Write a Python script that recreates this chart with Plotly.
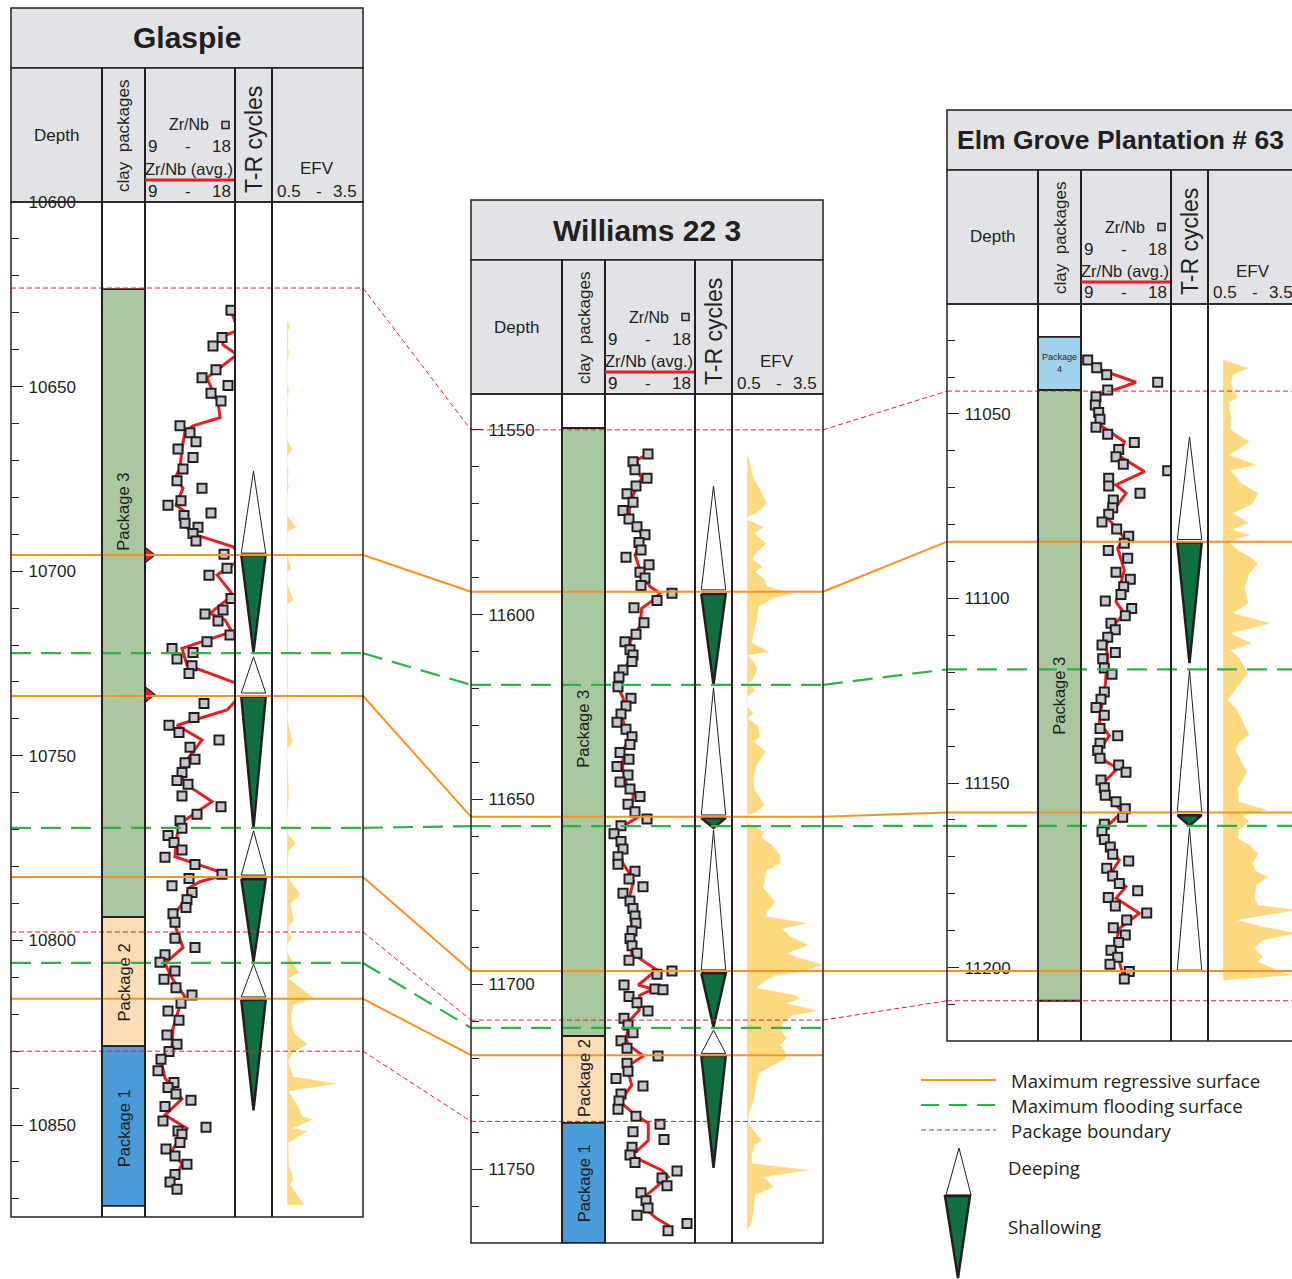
import plotly.graph_objects as go

W, H = 1292, 1279

# ====================== DATA ======================
# Zr/Nb samples (depth ft, ratio)
gl_zr = [(10629.3,17.6),(10636.7,16.7),(10639.0,15.8),(10645.4,16.1),(10647.6,14.7),(10649.7,17.3),(10651.8,15.6),
         (10653.9,16.6),(10660.6,12.5),(10662.5,13.5),(10664.9,14.1),(10666.9,12.3),(10669.2,13.8),(10672.3,12.8),
         (10675.5,12.2),(10677.5,14.7),(10680.9,12.6),(10682.1,11.3),(10684.2,15.6),(10684.9,12.9),(10687.0,13.0),
         (10688.1,14.3),(10689.8,13.8),(10691.8,14.1),(10695.4,16.9),(10699.2,17.2),(10701.1,15.4),(10707.4,17.6),
         (10710.5,16.8),(10711.6,15.0),(10713.5,16.3),(10717.3,17.5),(10719.1,15.2),(10720.9,11.7),(10722.0,13.8),
         (10723.8,12.2),(10725.6,13.7),(10727.7,13.4),(10735.8,14.9),(10739.6,13.9),(10741.7,11.4),(10743.7,12.4),
         (10745.7,16.4),(10747.7,13.5),(10750.9,14.0),(10751.9,13.0),(10754.5,12.7),(10756.7,12.2),(10757.7,13.3),
         (10760.9,12.7),(10763.8,16.6),(10765.8,14.2),(10767.6,12.5),(10769.6,12.7),(10771.6,11.3),(10773.5,11.9),
         (10775.5,12.7),(10777.5,11.0),(10779.4,14.0),(10782.1,16.7),(10783.2,13.4),(10785.2,11.7),(10787.0,13.7),
         (10789.0,13.2),(10791.1,13.1),(10792.8,11.8),(10795.1,12.0),(10799.4,12.0),(10801.9,14.0),(10803.9,11.0),
         (10805.9,10.5),(10808.3,12.0),(10810.5,10.9),(10812.8,12.1),(10814.8,13.7),(10817.0,12.6),(10819.1,11.3),
         (10821.6,12.4),(10825.6,11.2),(10828.1,12.2),(10830.1,11.4),(10832.2,10.6),(10835.3,10.3),(10838.5,11.9),
         (10839.8,11.3),(10841.6,12.1),(10843.3,13.6),(10845.0,11.0),(10848.9,10.8),(10850.6,15.1),(10851.6,12.3),
         (10852.5,12.7),(10854.7,12.5),(10856.5,11.1),(10858.4,12.0),(10860.6,13.2),(10863.4,12.0),(10865.4,11.5),
         (10867.4,12.2)]
gl_avg = [(10629.3,17.6),(10634.7,18.3),(10636.5,16.7),(10638.7,16.8),(10641.3,18.2),(10646.9,15.5),(10647.6,15.2),
          (10651.4,15.8),(10654.1,16.3),(10658.4,16.5),(10660.6,13.8),(10662.2,13.0),(10666.7,12.7),(10672.1,12.5),
          (10674.8,12.0),(10677.5,12.8),(10682.1,12.1),(10684.3,13.2),(10687.5,13.0),(10689.8,13.7),(10693.4,17.8),
          (10695.5,18.6),(10697.4,18.2),(10701.0,16.2),(10706.4,17.8),(10711.4,15.5),(10713.2,17.0),(10716.4,17.7),
          (10720.9,12.7),(10725.4,13.2),(10730.4,18.2),(10733.0,18.6),(10735.3,18.0),(10737.6,17.2),(10741.7,12.2),
          (10745.7,14.7),(10750.7,13.3),(10755.7,12.6),(10757.9,13.2),(10762.4,15.7),(10767.8,12.8),(10771.5,12.2),
          (10777.3,12.0),(10782.1,17.2),(10784.1,14.5),(10785.9,13.3),(10788.5,13.2),(10792.6,12.0),(10796.7,12.1),
          (10801.9,12.8),(10806.2,11.0),(10810.7,11.8),(10815.2,13.0),(10817.5,12.5),(10823.8,11.8),(10828.8,11.7),
          (10831.9,10.9),(10833.7,10.7),(10837.3,11.0),(10842.9,12.7),(10847.3,11.0),(10850.9,13.2),(10856.8,11.7),
          (10860.6,12.7),(10865.4,11.8),(10867.6,12.2)]
wi_zr = [(11556.5,13.3),(11558.6,11.8),(11560.8,12.0),(11563.1,13.2),(11565.2,12.1),(11567.3,11.2),(11569.6,11.8),
         (11571.8,10.8),(11574.1,11.4),(11576.2,12.2),(11578.4,13.0),(11580.5,12.4),(11582.5,12.6),(11584.5,11.1),
         (11586.5,13.4),(11588.5,12.5),(11590.1,13.0),(11592.1,12.6),(11594.2,15.7),(11596.2,14.2),(11598.1,11.9),
         (11602.2,12.9),(11605.3,12.1),(11607.3,11.0),(11609.5,11.5),(11610.9,11.8),(11612.7,11.7),(11615.0,10.8),
         (11616.9,10.4),(11619.5,10.3),(11622.6,11.6),(11624.7,11.1),(11626.9,10.6),(11629.1,10.2),(11631.0,11.1),
         (11633.0,11.7),(11635.1,11.5),(11637.3,10.5),(11639.1,11.4),(11641.1,10.2),(11643.4,11.3),(11645.3,10.5),
         (11647.2,11.5),(11649.2,12.5),(11651.3,11.3),(11653.3,12.0),(11655.3,13.2),(11657.1,10.6),(11659.3,9.9),
         (11661.4,10.6),(11663.4,10.8),(11665.5,10.3),(11667.5,10.3),(11669.4,12.0),(11671.5,11.4),(11673.6,12.8),
         (11675.4,10.8),(11677.5,11.5),(11679.5,11.8),(11681.5,12.0),(11683.5,12.1),(11685.6,11.7),(11687.6,11.5),
         (11689.6,11.7),(11691.6,12.2),(11693.5,11.4),(11696.4,15.7),(11697.3,14.2),(11700.2,10.9),(11701.3,14.0),
         (11701.5,14.8),(11703.3,11.4),(11705.0,12.2),(11707.2,13.3),(11709.2,10.9),(11711.0,11.3),(11713.1,11.8),
         (11715.3,10.6),(11717.3,11.2),(11719.4,14.3),(11721.4,11.2),(11723.5,11.3),(11725.5,10.1),(11727.5,12.8),
         (11729.7,10.6),(11731.6,10.4),(11733.8,10.3),(11735.7,12.1),(11737.9,14.5),(11739.9,11.8),(11742.0,14.9),
         (11744.1,11.7),(11746.2,11.5),(11748.2,12.0),(11750.5,16.2),(11752.4,14.7),(11754.5,15.2),(11756.4,12.6),
         (11758.6,13.1),(11760.5,13.3),(11762.5,12.2),(11764.7,17.2),(11766.7,15.3)]
wi_avg = [(11556.5,13.33),(11558.1,12.23),(11561.3,12.33),(11563.1,12.67),(11567.6,11.83),(11571.7,11.43),(11574.4,11.5),
          (11576.2,12.17),(11578.9,12.83),(11581.6,12.43),(11583.8,12.0),(11587.9,12.5),(11592.4,13.5),(11594.2,14.5),
          (11596.0,13.83),(11598.3,12.67),(11603.2,12.5),(11605.0,12.0),(11607.3,11.5),(11610.4,11.67),(11615.0,11.0),
          (11617.7,10.5),(11619.9,10.33),(11622.6,10.83),(11625.8,10.83),(11627.6,10.67),(11630.3,11.0),(11633.0,11.5),
          (11636.6,10.83),(11641.6,10.77),(11646.1,11.17),(11648.8,11.83),(11652.4,11.67),(11654.7,12.33),(11658.3,10.17),
          (11662.3,10.33),(11666.8,10.67),(11669.5,11.33),(11672.2,11.83),(11675.8,11.5),(11679.5,11.83),(11683.1,11.67),
          (11686.7,11.67),(11691.6,11.67),(11696.1,14.17),(11700.2,12.33),(11701.3,13.83),(11702.9,12.5),(11705.6,12.23),
          (11707.0,12.43),(11709.7,11.5),(11714.7,11.1),(11716.4,11.33),(11719.4,12.83),(11722.3,11.17),(11727.3,11.67),
          (11731.8,10.5),(11734.9,11.83),(11737.6,13.33),(11742.2,13.33),(11746.4,11.67),(11750.3,14.67),(11752.1,15.33),
          (11757.0,13.17),(11760.7,13.0),(11763.4,14.17),(11765.2,15.33),(11767.2,15.33)]
el_zr = [(11035.4,9.67),(11037.5,10.57),(11039.4,11.57),(11041.4,16.67),(11043.5,11.67),(11045.3,10.5),(11047.6,10.43),
         (11049.6,10.77),(11051.4,10.9),(11053.6,10.5),(11055.5,11.67),(11057.7,14.33),(11059.6,12.77),(11061.6,12.5),
         (11063.6,13.23),(11065.4,17.67),(11067.4,11.77),(11069.5,11.77),(11071.5,14.9),(11073.3,12.23),(11075.4,12.17),
         (11077.2,11.77),(11079.3,11.1),(11081.2,12.57),(11083.1,13.77),(11085.0,13.33),(11087.0,11.73),(11089.1,13.67),
         (11092.9,12.5),(11094.8,13.93),(11096.8,13.27),(11098.9,13.0),(11100.7,11.43),(11102.7,14.07),(11104.7,13.43),
         (11106.7,12.0),(11108.5,12.43),(11110.5,11.67),(11112.6,11.1),(11114.6,12.43),(11116.3,11.17),(11118.8,11.33),
         (11120.5,12.1),(11125.3,11.33),(11127.3,11.0),(11129.5,10.5),(11131.6,11.33),(11135.2,10.9),(11137.2,12.67),
         (11139.2,10.9),(11141.2,10.67),(11143.3,10.9),(11145.1,12.77),(11147.1,13.5),(11149.2,11.0),(11151.3,11.33),
         (11153.3,11.43),(11155.1,12.5),(11157.0,13.43),(11159.3,13.17),(11161.2,11.33),(11163.2,11.1),(11165.3,11.33),
         (11167.3,11.93),(11169.3,12.17),(11171.1,13.77),(11173.1,11.57),(11175.2,12.17),(11177.2,12.83),(11179.2,14.67),
         (11181.0,11.73),(11183.3,12.43),(11185.2,15.57),(11187.1,13.57),(11189.2,12.23),(11191.2,13.43),(11193.2,12.77),
         (11195.3,12.0),(11197.2,12.67),(11199.1,11.9),(11201.1,13.83),(11203.1,13.33)]
el_avg = [(11035.4,9.67),(11037.6,10.5),(11041.4,14.5),(11044.9,10.83),(11047.6,10.57),(11053.0,10.9),(11057.5,13.33),
          (11061.4,12.83),(11065.6,15.33),(11069.2,12.5),(11071.5,13.5),(11078.3,11.67),(11081.2,12.67),(11083.7,13.33),
          (11086.4,12.67),(11092.3,13.33),(11100.9,12.5),(11104.0,13.33),(11107.6,12.17),(11113.1,11.5),(11115.5,11.67),
          (11121.6,11.5),(11126.6,11.33),(11129.8,11.0),(11133.4,10.83),(11137.2,11.83),(11141.1,10.83),(11144.2,11.5),
          (11146.0,12.67),(11150.1,11.17),(11153.7,11.67),(11157.8,13.17),(11162.7,11.17),(11165.9,11.33),(11170.9,12.83),
          (11174.5,12.0),(11178.1,13.5),(11181.2,12.5),(11185.3,14.83),(11189.4,12.83),(11194.8,12.33),(11198.4,12.83),
          (11203.4,13.33)]

# EFV profiles (depth ft, EFV)
gl_efv = [(10632.3,1.0),(10633.5,1.08),(10635.4,1.0),(10637.5,1.04),(10639.5,1.0),(10640.9,1.06),(10642.5,1.0),
          (10650.0,1.0),(10651.1,1.06),(10652.5,1.0),(10656.0,1.0),(10657.0,1.03),(10658.5,1.0),(10664.5,1.0),
          (10666.9,1.15),(10669.0,1.0),(10672.0,1.0),(10673.0,1.04),(10675.0,1.0),(10677.1,1.04),(10679.0,1.0),
          (10685.0,1.0),(10688.1,1.28),(10689.2,1.0),(10691.3,1.0),(10695.5,1.0),(10699.1,1.12),(10700.5,1.0),
          (10703.8,1.0),(10707.8,1.2),(10709.0,1.0),(10713.3,1.0),(10716.0,1.03),(10719.6,1.02),(10724.0,1.0),
          (10735.3,1.03),(10740.0,1.0),(10746.3,1.16),(10748.0,1.0),(10751.0,1.0),(10760.5,1.05),(10765.0,1.0),
          (10771.0,1.0),(10773.8,1.28),(10775.5,1.05),(10777.7,1.02),(10782.8,1.0),(10787.5,1.42),(10790.0,1.1),
          (10792.2,1.15),(10794.6,1.2),(10796.0,1.05),(10797.7,1.03),(10799.3,1.15),(10801.0,1.0),(10803.2,1.0),
          (10808.7,1.37),(10810.3,1.03),(10815.5,1.86),(10817.4,1.2),(10820.0,1.12),(10823.4,1.15),(10825.5,1.28),
          (10828.1,1.64),(10830.5,1.15),(10832.9,1.03),(10837.0,1.2),(10838.8,2.6),(10840.7,1.03),(10845.3,1.37),
          (10847.7,1.5),(10848.5,1.81),(10850.9,1.15),(10851.7,1.64),(10854.8,1.03),(10861.1,1.05),(10864.6,1.2),
          (10866.1,1.09),(10871.6,1.55)]
wi_efv = [(11556.8,1.0),(11558.1,1.07),(11561.7,1.15),(11563.5,1.23),(11566.2,1.42),(11569.7,1.64),(11572.1,1.37),
          (11573.5,1.0),(11574.4,1.0),(11576.3,1.53),(11578.0,1.23),(11580.7,1.61),(11583.8,1.23),(11585.0,1.18),
          (11587.0,1.5),(11588.3,1.26),(11590.6,1.58),(11592.4,1.64),(11594.2,2.47),(11595.5,1.85),(11597.8,1.37),
          (11601.4,1.31),(11605.0,1.2),(11607.7,1.15),(11610.0,1.72),(11610.9,1.0),(11613.1,1.23),(11615.0,1.31),
          (11617.7,1.17),(11618.6,1.0),(11620.4,1.26),(11622.2,1.0),(11624.9,1.0),(11626.7,1.2),(11628.0,1.0),
          (11630.3,1.37),(11633.0,1.4),(11634.4,1.23),(11637.1,1.61),(11640.7,1.3),(11644.3,1.19),(11647.0,1.21),
          (11651.5,1.56),(11653.3,1.31),(11654.2,1.0),(11656.2,1.0),(11657.4,1.23),(11658.7,1.53),(11660.5,1.48),
          (11662.3,1.81),(11665.0,2.08),(11667.3,2.08),(11669.1,1.64),(11671.3,1.59),(11674.0,1.53),(11677.7,1.92),
          (11680.4,1.64),(11681.7,1.61),(11683.5,2.96),(11684.9,2.14),(11687.1,2.41),(11689.4,3.0),(11691.6,2.3),
          (11693.0,2.74),(11694.8,3.46),(11696.6,2.74),(11697.5,1.92),(11699.7,1.48),(11701.1,1.3),(11702.9,2.52),
          (11703.8,2.74),(11705.2,2.3),(11707.2,3.29),(11708.3,2.52),(11710.1,2.19),(11712.8,2.14),(11714.6,2.3),
          (11716.4,2.08),(11718.3,2.25),(11720.0,2.25),(11721.4,1.97),(11723.7,1.42),(11726.4,1.31),(11729.1,1.26),
          (11731.8,1.19),(11734.5,1.07),(11737.2,1.0),(11739.0,1.15),(11742.2,1.48),(11743.5,1.23),(11746.2,1.15),
          (11748.5,1.15),(11750.3,3.0),(11752.1,1.53),(11754.8,1.86),(11757.0,1.26),(11761.6,1.19),(11764.3,1.15),
          (11766.5,1.0)]
el_efv = [(11035.4,1.0),(11037.6,1.81),(11039.4,1.31),(11041.7,1.26),(11043.5,1.31),(11045.3,1.48),(11046.7,1.23),
          (11048.5,1.19),(11050.7,1.26),(11054.3,1.23),(11057.5,1.86),(11061.1,1.19),(11063.8,2.08),(11065.2,1.23),
          (11068.8,1.59),(11071.5,2.14),(11074.2,1.97),(11076.9,1.31),(11079.5,1.84),(11081.4,1.29),(11082.8,1.86),
          (11084.6,1.15),(11086.9,1.48),(11088.7,1.86),(11090.5,2.14),(11093.2,1.86),(11096.8,1.7),(11101.3,1.81),
          (11104.0,1.31),(11106.7,2.52),(11109.4,1.23),(11112.1,1.92),(11114.0,1.23),(11116.2,1.53),(11120.3,1.81),
          (11124.3,1.42),(11127.5,1.15),(11129.8,1.42),(11133.4,1.64),(11137.0,1.86),(11138.8,1.53),(11141.1,1.4),
          (11144.2,1.59),(11146.9,1.78),(11151.4,1.48),(11155.1,1.51),(11157.3,2.41),(11158.7,1.64),(11160.5,1.86),
          (11162.3,1.53),(11165.0,1.48),(11166.8,1.86),(11169.1,2.14),(11171.8,1.97),(11174.0,2.08),(11175.4,2.47),
          (11177.6,2.08),(11181.3,2.03),(11183.1,2.14),(11184.4,3.4),(11187.1,1.42),(11189.0,2.3),(11190.7,3.4),
          (11192.5,2.3),(11194.8,2.03),(11197.1,2.3),(11198.4,2.14),(11200.7,2.74),(11202.0,3.27),(11203.4,1.0)]
EFV_BASE = 1.0

# T-R cycles: (kind, top depth, bottom depth); D = deepening, S = shallowing
gl_tr = [("D",10672.9,10695.1),("S",10695.6,10721.9),("D",10723.2,10733.0),("S",10734.0,10769.6),
         ("D",10770.3,10782.3),("S",10783.4,10805.8),("D",10806.4,10815.3),("S",10816.1,10846.0)]
wi_tr = [("D",11565.2,11593.3),("S",11594.4,11619.0),("D",11619.8,11654.2),("S",11655.0,11657.7),
         ("D",11658.3,11696.1),("S",11697.0,11711.6),("D",11712.4,11718.7),("S",11719.4,11749.7)]
el_tr = [("D",11056.2,11084.0),("S",11084.9,11117.5),("D",11119.4,11157.8),("S",11158.7,11161.6),
         ("D",11162.3,11200.7)]

# clay packages: (name, top depth, bottom depth, label depth)
gl_pkg = [("Package 3",10623.6,10793.7,10684.0),("Package 2",10793.7,10828.6,10811.5),
          ("Package 1",10828.6,10871.9,10851.0)]
wi_pkg = [("Package 3",11549.5,11714.0,11631.0),("Package 2",11714.0,11737.5,11725.5),
          ("Package 1",11737.5,11770.0,11754.0)]
el_pkg = [("Package 4",11029.1,11043.5,11036.3),("Package 3",11043.5,11209.0,11126.5)]

# correlated surfaces: (type, depth Glaspie, depth Williams, depth Elm Grove)
surfaces = [("pb",10623.3,11550.0,11043.8),("mrs",10695.6,11593.8,11084.6),("mfs",10722.2,11619.0,11119.2),
            ("mrs",10733.8,11654.7,11158.0),("mfs",10769.5,11657.2,11161.6),("mrs",10782.8,11696.4,11200.9),
            ("pb",10797.7,11709.7,11209.0),("mfs",10806.1,11711.8,None),("mrs",10815.8,11719.2,None),
            ("pb",10830.0,11737.1,None)]

# Glaspie red markers (depth)
gl_marks = [10695.6, 10733.4]

wells = [
    dict(title="Glaspie", zr=gl_zr, avg=gl_avg, efv=gl_efv, tr=gl_tr, pkg=gl_pkg),
    dict(title="Williams 22 3", zr=wi_zr, avg=wi_avg, efv=wi_efv, tr=wi_tr, pkg=wi_pkg),
    dict(title="Elm Grove Plantation # 63", zr=el_zr, avg=el_avg, efv=el_efv, tr=el_tr, pkg=el_pkg),
]

# ====================== GEOMETRY / STYLE ======================
geo = [dict(left=11, top=8, bottom=1217, d0=10600.0, d1=10874.9, tsize=30, tx=175.5),
       dict(left=471, top=200, bottom=1243, d0=11540.3, d1=11770.0, tsize=30, tx=175.5),
       dict(left=947, top=110, bottom=1041, d0=11020.2, d1=11219.9, tsize=26.5, tx=173)]
COLS = [0, 91, 134, 224, 261, 352]
TITLE_H, HEAD = 60, 194
COL_RANGES = [[0, 1], [0, 1], [9, 18], [0, 1], [0.5, 3.5]]
INK = "#231f20"
GREY = "#e1e3e7"
PKG_COL = {"Package 1": "#4a9bd9", "Package 2": "#fddcb6", "Package 3": "#a9c89f", "Package 4": "#a0d2ee"}
STY = {"mrs": dict(color="#f7941d", width=2, dash="solid"),
       "mfs": dict(color="#2db34a", width=2.2, dash="20px,10px"),
       "pb": dict(color="#ed1c24", width=1, dash="5px,3px")}
FONT = "Liberation Sans, Arial, sans-serif"


def px(x):
    return x / W


def py(y):
    return 1 - y / H


def xr(w, c):
    i = w * 5 + c + 1
    return "x" if i == 1 else f"x{i}"


def yr(w):
    return "y" if w == 0 else f"y{w+1}"


def depth_px(w, d):
    g = geo[w]
    t = g["top"] + HEAD
    return t + (d - g["d0"]) * (g["bottom"] - t) / (g["d1"] - g["d0"])


def txt(x, y, text, size, xanchor="center", angle=0, family=FONT, xref="paper", yref="paper"):
    xx = px(x) if xref == "paper" else x
    yy = py(y) if yref == "paper" else y
    return dict(xref=xref, yref=yref, x=xx, y=yy, text=text, showarrow=False, xanchor=xanchor, yanchor="middle",
                textangle=angle, font=dict(family=family, size=size, color=INK))


fig = go.Figure()
layout = dict(width=W, height=H, margin=dict(l=0, r=0, t=0, b=0, pad=0, autoexpand=False), paper_bgcolor="white",
              plot_bgcolor="rgba(0,0,0,0)", showlegend=False)
shapes, annos = [], []

for w, g in enumerate(geo):
    L, T, B = g["left"], g["top"], g["bottom"]
    for c in range(5):
        i = w * 5 + c + 1
        x0, x1 = L + COLS[c], L + COLS[c + 1]
        r0, r1 = COL_RANGES[c]
        if x1 > W:
            r1 = r0 + (r1 - r0) * (W - x0) / (x1 - x0)
            x1 = W
        layout["xaxis" if i == 1 else f"xaxis{i}"] = dict(domain=[px(x0), px(x1)], range=[r0, r1], anchor=yr(w),
                                                          visible=False, fixedrange=True, automargin=False)
    layout["yaxis" if w == 0 else f"yaxis{w+1}"] = dict(
        domain=[py(B), py(T + HEAD)], range=[g["d1"], g["d0"]], anchor="free", position=px(L), side="left",
        showgrid=False, zeroline=False, showline=False, ticks="inside", ticklen=11, tickwidth=1,
        tickcolor=INK, dtick=50, tick0=0, tickformat="d", ticklabelposition="inside", ticklabeloverflow="allow",
        ticklabelstandoff=6, automargin=False,
        tickfont=dict(family=FONT, size=17, color=INK), fixedrange=True,
        minor=dict(dtick=10, tick0=0, ticks="inside", ticklen=7, tickwidth=1, tickcolor=INK, showgrid=False))
    fig.add_trace(go.Scatter(x=[0.5], y=[g["d0"]], xaxis=xr(w, 0), yaxis=yr(w), mode="markers",
                             marker=dict(opacity=0), hoverinfo="skip"))

# ---------- traces ----------
for w, well in enumerate(wells):
    y = yr(w)
    dd = [d for d, v in well["efv"]]
    vv = [v for d, v in well["efv"]]
    fig.add_trace(go.Scatter(x=[EFV_BASE] + vv + [EFV_BASE], y=[dd[0]] + dd + [dd[-1]], xaxis=xr(w, 4), yaxis=y,
                             mode="lines", fill="toself", fillcolor="#ffd97f", line=dict(width=0.5, color="#ffd97f"),
                             hoverinfo="skip"))
    hw = 0.33
    for kind, top, bot in well["tr"]:
        if kind == "D":
            xs, ys = [0.5, 0.5 + hw, 0.5 - hw, 0.5], [top, bot, bot, top]
            fig.add_trace(go.Scatter(x=xs, y=ys, xaxis=xr(w, 3), yaxis=y, mode="lines", fill="toself",
                                     fillcolor="white", line=dict(color=INK, width=1), hoverinfo="skip"))
        else:
            xs, ys = [0.5 - hw, 0.5 + hw, 0.5, 0.5 - hw], [top, top, bot, top]
            fig.add_trace(go.Scatter(x=xs, y=ys, xaxis=xr(w, 3), yaxis=y, mode="lines", fill="toself",
                                     fillcolor="#0e6f3f", line=dict(color=INK, width=2.5), hoverinfo="skip"))
    fig.add_trace(go.Scatter(x=[v for d, v in well["avg"]], y=[d for d, v in well["avg"]], xaxis=xr(w, 2), yaxis=y,
                             mode="lines", line=dict(color="#ed1c24", width=3), hoverinfo="skip"))
    fig.add_trace(go.Scatter(x=[v for d, v in well["zr"]], y=[d for d, v in well["zr"]], xaxis=xr(w, 2), yaxis=y,
                             mode="markers", marker=dict(symbol="square", size=9, color="#c5c8ce",
                                                         line=dict(color=INK, width=2)), hoverinfo="skip"))

fig.add_trace(go.Scatter(x=[9.35] * len(gl_marks), y=gl_marks, xaxis=xr(0, 2), yaxis=yr(0), mode="markers",
                         cliponaxis=False,
                         marker=dict(symbol="triangle-right", size=13, color="#ed1c24",
                                     line=dict(color=INK, width=1.2)), hoverinfo="skip"))

# ---------- shapes: header boxes ----------
for w, g in enumerate(geo):
    L, T, B = g["left"], g["top"], g["bottom"]
    R = L + COLS[-1]
    shapes.append(dict(type="rect", xref="paper", yref="paper", x0=px(L), x1=px(R), y0=py(T), y1=py(T + TITLE_H),
                       fillcolor=GREY, line=dict(color=INK, width=1.5), layer="below"))
    shapes.append(dict(type="rect", xref="paper", yref="paper", x0=px(L), x1=px(R), y0=py(T + TITLE_H),
                       y1=py(T + HEAD), fillcolor=GREY, line=dict(color=INK, width=1.5), layer="below"))

# clay package boxes
for w, well in enumerate(wells):
    for name, top, bot, lab in well["pkg"]:
        shapes.append(dict(type="rect", xref=xr(w, 1), yref=yr(w), x0=0, x1=1, y0=top, y1=bot,
                           fillcolor=PKG_COL[name], line=dict(color=INK, width=1.8), layer="below"))
        if name == "Package 4":
            annos.append(txt(0.5, lab, "Package<br>4", 9, xref=xr(w, 1), yref=yr(w)))
        else:
            annos.append(txt(0.5, lab, name, 16.5, angle=-90, xref=xr(w, 1), yref=yr(w)))

# correlation surfaces
for s in surfaces:
    kind, depths = s[0], s[1:]
    st = STY[kind]
    for w, d in enumerate(depths):
        if d is None:
            continue
        L = geo[w]["left"]
        shapes.append(dict(type="line", xref="paper", yref=yr(w), x0=px(L), x1=px(min(L + COLS[-1], W + 5)),
                           y0=d, y1=d, line=st))
        if w + 1 < len(depths) and depths[w + 1] is not None:
            xa = L + COLS[-1]
            xb = geo[w + 1]["left"]
            shapes.append(dict(type="line", xref="paper", yref="paper", x0=px(xa), x1=px(xb),
                               y0=py(depth_px(w, d)), y1=py(depth_px(w + 1, depths[w + 1])), line=st))

# column separators, frames and header texts
for w, g in enumerate(geo):
    L, T, B = g["left"], g["top"], g["bottom"]
    R = L + COLS[-1]
    shapes.append(dict(type="rect", xref="paper", yref="paper", x0=px(L), x1=px(R), y0=py(T + HEAD), y1=py(B),
                       line=dict(color=INK, width=1.5)))
    for c in range(1, 5):
        x = L + COLS[c]
        shapes.append(dict(type="line", xref="paper", yref="paper", x0=px(x), x1=px(x), y0=py(T + TITLE_H), y1=py(B),
                           line=dict(color=INK, width=2)))
    annos.append(txt(L + g["tx"], T + 30, "<b>" + wells[w]["title"] + "</b>", g["tsize"]))
    annos.append(txt(L + 45, T + 127, "Depth", 17))
    annos.append(txt(L + 113, T + 128, "clay  packages", 17, angle=-90))
    annos.append(txt(L + 178, T + 117, "Zr/Nb", 16))
    shapes.append(dict(type="rect", xref="paper", yref="paper", x0=px(L + 211), x1=px(L + 218), y0=py(T + 113.5),
                       y1=py(T + 120.5), fillcolor="#c5c8ce", line=dict(color=INK, width=1.5)))
    for yy in (T + 139, T + 183):
        annos.append(txt(L + 135, yy, "9", 17, xanchor="left"))
        annos.append(txt(L + 177, yy, "-", 17))
        annos.append(txt(L + 222, yy, "18", 17, xanchor="right"))
    annos.append(txt(L + 132, T + 161, "Zr/Nb (avg.)", 16.5, xanchor="left"))
    shapes.append(dict(type="line", xref="paper", yref="paper", x0=px(L + 134), x1=px(L + 223), y0=py(T + 172),
                       y1=py(T + 172), line=dict(color="#ed1c24", width=3)))
    annos.append(txt(L + 243, T + 132, "T-R cycles", 23, angle=-90))
    annos.append(txt(L + 306, T + 161, "EFV", 17))
    annos.append(txt(L + 264, T + 183, "0.5", 17, xanchor="left"))
    annos.append(txt(L + 308, T + 183, "-", 17))
    annos.append(txt(L + 348, T + 183, "3.5", 17, xanchor="right"))

# ---------- legend ----------
LEG = "Open Sans, Noto Sans, sans-serif"
for yy, kind, label in ((1080, "mrs", "Maximum regressive surface"), (1105, "mfs", "Maximum flooding surface"),
                        (1130, "pb", "Package boundary")):
    st = dict(STY[kind])
    if kind == "mfs":
        st["dash"] = "18px,10px"
    shapes.append(dict(type="line", xref="paper", yref="paper", x0=px(921), x1=px(996), y0=py(yy), y1=py(yy), line=st))
    annos.append(txt(1009, yy, label, 18.6, xanchor="left", family=LEG))
shapes.append(dict(type="path", xref="paper", yref="paper",
                   path=f"M {px(959)},{py(1148)} L {px(971)},{py(1195)} L {px(946)},{py(1195)} Z",
                   fillcolor="white", line=dict(color=INK, width=1)))
shapes.append(dict(type="path", xref="paper", yref="paper",
                   path=f"M {px(945)},{py(1196)} L {px(970)},{py(1196)} L {px(958)},{py(1278)} Z",
                   fillcolor="#0e6f3f", line=dict(color=INK, width=2.5)))
annos.append(txt(1006, 1167, "Deeping", 18.6, xanchor="left", family=LEG))
annos.append(txt(1006, 1226, "Shallowing", 18.6, xanchor="left", family=LEG))

layout["shapes"] = shapes
layout["annotations"] = annos
fig.update_layout(**layout)
fig.write_html("out.html", config={"displayModeBar": False},
               post_script="document.body.style.margin='0';document.body.style.overflow='hidden';")
